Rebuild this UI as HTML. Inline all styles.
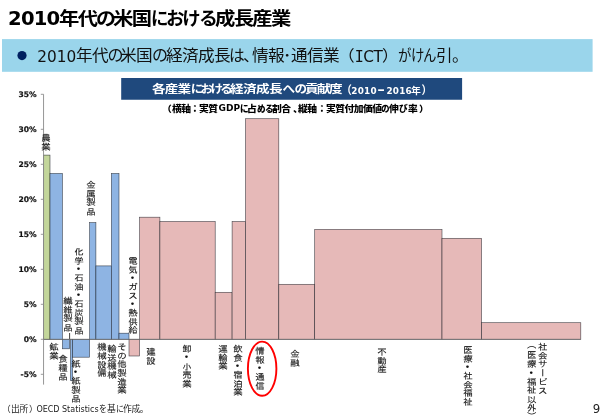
<!DOCTYPE html>
<html lang="ja">
<head>
<meta charset="utf-8">
<title>2010年代の米国における成長産業</title>
<style>
html,body{margin:0;padding:0;width:603px;height:415px;overflow:hidden;background:#fff;}
#slide{width:603px;height:415px;background:#fff;position:relative;overflow:hidden;
 font-family:"Liberation Sans","Noto Sans CJK JP",sans-serif;color:#000;}
.abs{position:absolute;white-space:nowrap;}
.ln{position:absolute;left:0;width:603px;white-space:nowrap;}
.r{display:inline-block;vertical-align:top;position:relative;white-space:nowrap;transform-origin:0 50%;}
.n,.sn{font-family:"DejaVu Sans","Liberation Sans",sans-serif;}
.title{top:2.7px;height:30px;line-height:30px;font-size:19px;font-weight:bold;}
.title .n{font-size:19.6px;letter-spacing:-0.85px;top:1px;}
.lead{top:41.2px;height:30px;line-height:30px;font-size:16px;color:#111;}
.lead .n{font-size:15.3px;letter-spacing:0px;top:0.6px;}
.lead .m{font-family:"DejaVu Sans Mono","Liberation Mono",monospace;font-size:15px;}
.ntext{top:79.0px;height:21.4px;line-height:21.4px;font-size:13.33px;font-weight:bold;color:#fff;}
.ntext .s{top:1.4px;}
.ntext .sn{font-size:8.8px;top:1.9px;}
.sub{top:102.2px;height:13px;line-height:13px;font-size:9.33px;font-weight:900;}
.sub .n{font-weight:bold;font-size:9px;}
.chart{position:absolute;left:0;top:0;}
.yl{position:absolute;left:0;width:36.6px;text-align:right;font-size:7.6px;line-height:12px;font-weight:bold;color:#111;white-space:nowrap;-webkit-text-stroke:0.2px #111;
 font-family:"DejaVu Sans","Liberation Sans",sans-serif;}
.vl{position:absolute;writing-mode:vertical-rl;text-orientation:mixed;font-size:9.1px;font-weight:400;line-height:10.5px;width:10.5px;white-space:nowrap;color:#111;
 font-family:"IPAGothic","Noto Sans CJK JP","Liberation Sans",sans-serif;transform:scale(1.04,0.9527);transform-origin:50% 0;-webkit-text-stroke:0.1px #111;}
.vl .d{font-family:"Noto Sans CJK JP",sans-serif;font-weight:900;-webkit-text-stroke:0;}
.src{top:402.6px;height:13px;line-height:13px;font-size:8.6px;color:#222;}
.src .n{font-size:8px;}
.pg{left:592.8px;top:401.2px;font-size:11.8px;line-height:16px;color:#222;font-family:"DejaVu Sans","Liberation Sans",sans-serif;}
</style>
</head>
<body>
<div id="slide">
<div class="ln title"><span class="r n" style="width:50.500000px;margin-left:8.093750px">2010</span><span class="r" style="width:37.203125px;font-size:19.4px;letter-spacing:-1.62px;transform:scale(1.05,0.95)">年代</span><span class="r k" style="width:17.093750px;font-size:19.4px;letter-spacing:-1.27px;transform:scale(1.03,0.95)">の</span><span class="r" style="width:38.109375px;font-size:19.4px;letter-spacing:-1.62px;transform:scale(1.05,0.95)">米国</span><span class="r k" style="width:14.593750px;font-size:19.4px;letter-spacing:1.34px;transform:scale(0.9,0.95)">に</span><span class="r k" style="width:33.406250px;font-size:19.4px;letter-spacing:-2.24px;transform:scale(0.95,0.95)">おけ</span><span class="r k" style="width:16.000000px;font-size:19.4px;letter-spacing:-0.15px;transform:scale(0.97,0.95)">る</span><span class="r" style="font-size:19.4px;letter-spacing:-1.62px;transform:scale(1.05,0.95)">成長産業</span></div>
<svg class="chart" width="603" height="415" viewBox="0 0 603 415">
<rect x="2" y="39.1" width="590.6" height="32.7" fill="#9ad5eb"/>
<rect x="121.2" y="78" width="340.9" height="21.75" fill="#1f497d"/>
<circle cx="22" cy="55.6" r="4.6" fill="#002060"/>
</svg>
<div class="ln lead"><span class="r n" style="width:38.296875px;margin-left:37.296875px">2010</span><span class="r" style="width:31.796875px;font-size:16.0px;letter-spacing:-0.62px;transform:scale(1.04,0.96)">年代</span><span class="r k" style="width:12.906250px;font-size:16.0px;letter-spacing:0.00px;transform:scale(1.0,0.96)">の</span><span class="r" style="width:31.703125px;font-size:16.0px;letter-spacing:-0.62px;transform:scale(1.04,0.96)">米国</span><span class="r k" style="width:13.796875px;font-size:16.0px;letter-spacing:0.00px;transform:scale(1.0,0.96)">の</span><span class="r" style="width:62.796875px;font-size:16.0px;letter-spacing:-0.62px;transform:scale(1.04,0.96)">経済成長</span><span class="r k" style="width:14.000000px;font-size:16.0px;letter-spacing:0.33px;transform:scale(0.98,0.96)">は</span><span class="r" style="width:9.500000px;font-size:16.0px;letter-spacing:-0.62px;transform:scale(1.04,0.96)">、</span><span class="r" style="width:31.296875px;font-size:16.0px;letter-spacing:-0.62px;transform:scale(1.04,0.96)">情報</span><span class="r" style="width:8.000000px;font-size:16.0px;letter-spacing:-0.62px;transform:scale(1.04,0.96)">･</span><span class="r" style="width:47.000000px;font-size:16.0px;letter-spacing:-0.62px;transform:scale(1.04,0.96)">通信業</span><span class="r" style="width:16.296875px;font-size:16.0px;letter-spacing:-0.62px;transform:scale(1.04,0.96)">（</span><span class="r n m" style="width:8.500000px">I</span><span class="r n" style="width:18.500000px;letter-spacing:-0.30px">CT</span><span class="r" style="width:15.906250px;font-size:16.0px;letter-spacing:-0.62px;transform:scale(1.04,0.96)">）</span><span class="r k" style="width:13.000000px;font-size:16.0px;letter-spacing:3.05px;transform:scale(0.84,0.96)">が</span><span class="r k" style="width:12.000000px;font-size:16.0px;letter-spacing:3.05px;transform:scale(0.84,0.96)">け</span><span class="r k" style="width:13.203125px;font-size:16.0px;letter-spacing:3.05px;transform:scale(0.84,0.96)">ん</span><span class="r" style="width:16.000000px;font-size:16.0px;letter-spacing:-0.62px;transform:scale(1.04,0.96)">引</span><span class="r" style="font-size:16.0px;letter-spacing:-0.62px;transform:scale(1.04,0.96)">。</span></div>
<div class="ln ntext"><span class="r" style="width:38.687500px;margin-left:152.000000px;font-size:12.6px;letter-spacing:-0.84px;transform:scale(1.08,0.88)">各産業</span><span class="r k" style="width:39.703125px;font-size:12.6px;letter-spacing:-2.70px;transform:scale(1.0,0.9)">における</span><span class="r" style="width:52.203125px;font-size:12.6px;letter-spacing:-0.56px;transform:scale(1.08,0.88)">経済成長</span><span class="r k" style="width:22.406250px;font-size:12.6px;letter-spacing:-0.60px;transform:scale(1.0,0.9)">への</span><span class="r" style="width:36.187500px;font-size:12.6px;letter-spacing:-1.49px;transform:scale(1.08,0.88)">貢献度</span><span class="r s" style="width:10.109375px;font-size:10.6px;transform:scale(1,1.05)">（</span><span class="r sn" style="width:25.593750px;letter-spacing:0.25px">2010</span><span class="r s" style="width:9.500000px;font-size:9.6px;transform:scale(0.85,1.7)">－</span><span class="r sn" style="width:24.203125px;letter-spacing:0.25px">2016</span><span class="r s" style="width:11.000000px;font-size:9.6px;letter-spacing:-0.54px;transform:scale(1.03,0.97)">年</span><span class="r s" style="font-size:10.6px;transform:scale(1,1.05)">）</span></div>
<div class="ln sub"><span class="r" style="width:9.890625px;margin-left:161.796875px;font-size:9.5px;letter-spacing:-0.44px;transform:scale(1.03,0.93)">（</span><span class="r" style="width:18.703125px;font-size:9.5px;letter-spacing:-0.44px;transform:scale(1.03,0.93)">横軸</span><span class="r" style="width:9.000000px;font-size:9.5px;letter-spacing:-0.44px;transform:scale(1.03,0.93)">：</span><span class="r" style="width:19.203125px;font-size:9.5px;letter-spacing:-0.44px;transform:scale(1.03,0.93)">実質</span><span class="r n" style="width:21.203125px">GDP</span><span class="r k" style="width:6.890625px;font-size:9.5px;letter-spacing:0.87px;transform:scale(0.9,0.93)">に</span><span class="r" style="width:10.203125px;font-size:9.5px;letter-spacing:-0.44px;transform:scale(1.03,0.93)">占</span><span class="r k" style="width:15.203125px;font-size:9.5px;letter-spacing:-0.61px;transform:scale(0.9,0.93)">める</span><span class="r" style="width:20.593750px;font-size:9.5px;letter-spacing:-0.44px;transform:scale(1.03,0.93)">割合</span><span class="r" style="width:5.703125px;font-size:9.5px;letter-spacing:-0.44px;transform:scale(1.03,0.93)">、</span><span class="r" style="width:18.296875px;font-size:9.5px;letter-spacing:-0.44px;transform:scale(1.03,0.93)">縦軸</span><span class="r" style="width:9.609375px;font-size:9.5px;letter-spacing:-0.44px;transform:scale(1.03,0.93)">：</span><span class="r" style="width:54.703125px;font-size:9.5px;letter-spacing:-0.52px;transform:scale(1.03,0.93)">実質付加価値</span><span class="r k" style="width:8.187500px;font-size:9.5px;letter-spacing:0.87px;transform:scale(0.9,0.93)">の</span><span class="r" style="width:9.609375px;font-size:9.5px;letter-spacing:-0.44px;transform:scale(1.03,0.93)">伸</span><span class="r k" style="width:9.203125px;font-size:9.5px;letter-spacing:0.64px;transform:scale(0.92,0.93)">び</span><span class="r" style="width:10.593750px;font-size:9.5px;letter-spacing:-0.44px;transform:scale(1.03,0.93)">率</span><span class="r" style="font-size:9.5px;letter-spacing:-0.44px;transform:scale(1.03,0.93)">）</span></div>
<svg class="chart" width="603" height="415" viewBox="0 0 603 415">
<rect x="43.60" y="155.10" width="6.40" height="184.20" fill="#c3d69b" stroke="#10141c" stroke-opacity="0.75" stroke-width="0.62"/>
<rect x="50.00" y="173.50" width="12.40" height="165.80" fill="#8eb4e3" stroke="#10141c" stroke-opacity="0.75" stroke-width="0.62"/>
<rect x="62.40" y="339.30" width="7.20" height="9.50" fill="#8eb4e3" stroke="#10141c" stroke-opacity="0.75" stroke-width="0.62"/>
<rect x="70.50" y="339.30" width="2.00" height="41.30" fill="#8eb4e3" stroke="#10141c" stroke-opacity="0.75" stroke-width="0.62"/>
<rect x="72.50" y="339.30" width="17.10" height="17.90" fill="#8eb4e3" stroke="#10141c" stroke-opacity="0.75" stroke-width="0.62"/>
<rect x="89.60" y="222.60" width="6.30" height="116.70" fill="#8eb4e3" stroke="#10141c" stroke-opacity="0.75" stroke-width="0.62"/>
<rect x="95.90" y="265.90" width="15.50" height="73.40" fill="#8eb4e3" stroke="#10141c" stroke-opacity="0.75" stroke-width="0.62"/>
<rect x="111.40" y="173.50" width="7.60" height="165.80" fill="#8eb4e3" stroke="#10141c" stroke-opacity="0.75" stroke-width="0.62"/>
<rect x="119.00" y="333.20" width="10.00" height="6.10" fill="#8eb4e3" stroke="#10141c" stroke-opacity="0.75" stroke-width="0.62"/>
<rect x="129.00" y="339.30" width="10.60" height="16.70" fill="#e6b9b8" stroke="#10141c" stroke-opacity="0.75" stroke-width="0.62"/>
<rect x="139.60" y="217.20" width="20.30" height="122.10" fill="#e6b9b8" stroke="#10141c" stroke-opacity="0.75" stroke-width="0.62"/>
<rect x="159.90" y="221.50" width="55.30" height="117.80" fill="#e6b9b8" stroke="#10141c" stroke-opacity="0.75" stroke-width="0.62"/>
<rect x="215.20" y="292.30" width="16.90" height="47.00" fill="#e6b9b8" stroke="#10141c" stroke-opacity="0.75" stroke-width="0.62"/>
<rect x="232.10" y="221.50" width="13.40" height="117.80" fill="#e6b9b8" stroke="#10141c" stroke-opacity="0.75" stroke-width="0.62"/>
<rect x="245.50" y="118.70" width="33.30" height="220.60" fill="#e6b9b8" stroke="#10141c" stroke-opacity="0.75" stroke-width="0.62"/>
<rect x="278.80" y="284.30" width="35.90" height="55.00" fill="#e6b9b8" stroke="#10141c" stroke-opacity="0.75" stroke-width="0.62"/>
<rect x="314.70" y="229.40" width="127.30" height="109.90" fill="#e6b9b8" stroke="#10141c" stroke-opacity="0.75" stroke-width="0.62"/>
<rect x="442.00" y="238.30" width="39.60" height="101.00" fill="#e6b9b8" stroke="#10141c" stroke-opacity="0.75" stroke-width="0.62"/>
<rect x="481.60" y="322.70" width="99.20" height="16.60" fill="#e6b9b8" stroke="#10141c" stroke-opacity="0.75" stroke-width="0.62"/>
<line x1="69.6" y1="333.0" x2="69.6" y2="339.3" stroke="#2a2a2a" stroke-width="0.9"/>
<line x1="43.55" y1="94.3" x2="43.55" y2="384.6" stroke="#8a8a8a" stroke-width="0.9"/>
<line x1="40.8" y1="94.30" x2="43.6" y2="94.30" stroke="#909090" stroke-width="0.9"/>
<line x1="40.8" y1="129.30" x2="43.6" y2="129.30" stroke="#909090" stroke-width="0.9"/>
<line x1="40.8" y1="164.30" x2="43.6" y2="164.30" stroke="#909090" stroke-width="0.9"/>
<line x1="40.8" y1="199.30" x2="43.6" y2="199.30" stroke="#909090" stroke-width="0.9"/>
<line x1="40.8" y1="234.30" x2="43.6" y2="234.30" stroke="#909090" stroke-width="0.9"/>
<line x1="40.8" y1="269.30" x2="43.6" y2="269.30" stroke="#909090" stroke-width="0.9"/>
<line x1="40.8" y1="304.30" x2="43.6" y2="304.30" stroke="#909090" stroke-width="0.9"/>
<line x1="40.8" y1="339.30" x2="43.6" y2="339.30" stroke="#909090" stroke-width="0.9"/>
<line x1="40.8" y1="374.30" x2="43.6" y2="374.30" stroke="#909090" stroke-width="0.9"/>
<line x1="43.6" y1="339.3" x2="580.8" y2="339.3" stroke="#707070" stroke-width="0.8"/>
<ellipse cx="262.15" cy="368.7" rx="14.25" ry="27.1" fill="none" stroke="#ff0000" stroke-width="1.9"/>
</svg>
<div class="yl" style="top:89.0px">35%</div>
<div class="yl" style="top:124.0px">30%</div>
<div class="yl" style="top:159.0px">25%</div>
<div class="yl" style="top:194.0px">20%</div>
<div class="yl" style="top:229.0px">15%</div>
<div class="yl" style="top:264.0px">10%</div>
<div class="yl" style="top:299.0px">5%</div>
<div class="yl" style="top:334.0px">0%</div>
<div class="yl" style="top:369.0px">-5%</div>
<div class="vl" style="left:40.45px;top:132.80px">農業</div>
<div class="vl" style="left:84.65px;top:180.20px">金属製品</div>
<div class="vl" style="left:72.55px;top:246.60px">化学<span class="d">・</span>石油<span class="d">・</span>石炭製品</div>
<div class="vl" style="left:62.25px;top:296.30px">繊維製品</div>
<div class="vl" style="left:127.25px;top:256.30px">電気<span class="d">・</span>ガス<span class="d">・</span>熱供給</div>
<div class="vl" style="left:47.95px;top:342.30px">鉱業</div>
<div class="vl" style="left:57.05px;top:354.30px">食糧品</div>
<div class="vl" style="left:70.25px;top:358.80px">紙<span class="d">・</span>紙製品</div>
<div class="vl" style="left:95.85px;top:342.30px">機械設備</div>
<div class="vl" style="left:105.55px;top:343.80px">輸送機械</div>
<div class="vl" style="left:115.65px;top:341.80px">その他製造業</div>
<div class="vl" style="left:144.95px;top:347.30px">建設</div>
<div class="vl" style="left:180.75px;top:343.80px">卸<span class="d">・</span>小売業</div>
<div class="vl" style="left:217.25px;top:344.10px">運輸業</div>
<div class="vl" style="left:232.25px;top:344.10px">飲食<span class="d">・</span>宿泊業</div>
<div class="vl" style="left:254.25px;top:345.60px">情報<span class="d">・</span>通信</div>
<div class="vl" style="left:289.25px;top:349.40px">金融</div>
<div class="vl" style="left:376.45px;top:347.30px">不動産</div>
<div class="vl" style="left:462.25px;top:345.30px">医療<span class="d">・</span>社会福祉</div>
<div class="vl" style="left:525.95px;top:342.2px;width:21px">社会サービス<br><span style="position:relative;top:-2.6px">（</span>医療<span class="d">・</span>福祉以外<span style="position:relative;top:-0.8px">）</span></div>
<div class="ln src"><span class="r" style="width:9.109375px;margin-left:2.187500px;font-size:8.6px;letter-spacing:-0.27px;transform:scale(1.02,1.0)">（</span><span class="r" style="width:17.890625px;font-size:8.6px;letter-spacing:-0.27px;transform:scale(1.02,1.0)">出所</span><span class="r" style="width:7.203125px;font-size:8.6px;letter-spacing:-0.27px;transform:scale(1.02,1.0)">）</span><span class="r n" style="width:62.796875px">OECD Statistics</span><span class="r k" style="width:8.203125px;font-size:8.6px;letter-spacing:0.64px;transform:scale(0.92,1.0)">を</span><span class="r" style="width:8.609375px;font-size:8.6px;letter-spacing:-0.27px;transform:scale(1.02,1.0)">基</span><span class="r k" style="width:6.593750px;font-size:8.6px;letter-spacing:0.64px;transform:scale(0.92,1.0)">に</span><span class="r" style="font-size:8.6px;letter-spacing:-0.36px;transform:scale(1.02,1.0)">作成。</span></div>
<div class="abs pg">9</div>
</div>
</body>
</html>
